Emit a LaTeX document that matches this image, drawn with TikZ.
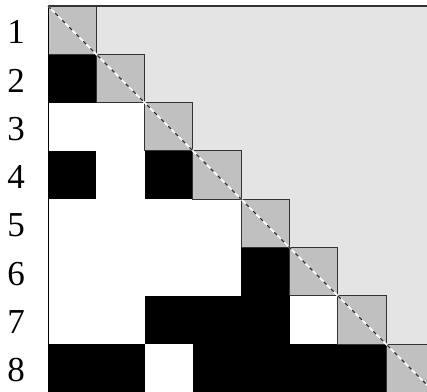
\documentclass[tikz,border=0pt]{standalone}
\usepackage{fontspec}
\setmainfont{Liberation Serif}
\definecolor{uppergray}{HTML}{E4E4E4}
\definecolor{diaggray}{HTML}{C0C0C0}
\tikzset{
  cellblack/.style={fill=black},
  celldiag/.style={fill=diaggray, draw=black!80, line width=1pt},
  rowlabel/.style={font=\fontsize{35}{35}\selectfont, inner sep=0pt}
}
\begin{document}
\begin{tikzpicture}[x=1pt,y=-1pt]
\pgfmathsetmacro{\cel}{48.3}
\useasboundingbox (0,0) rectangle (427,391);
\begin{scope}
\clip (0,0) rectangle (427,391);
\fill[white] (0,0) rectangle (427,391);
\fill[uppergray] (48,6) rectangle ++({8*\cel},{8*\cel});
\foreach \i in {2,...,8}
  \fill[white] (48,{6+(\i-1)*\cel}) rectangle ++({(\i-1)*\cel},\cel);
\foreach \r/\k in {2/1,4/1,4/3,6/5,7/3,7/4,7/5,8/1,8/2,8/4,8/5,8/6,8/7}
  \fill[cellblack] ({48+(\k-1)*\cel},{6+(\r-1)*\cel}) rectangle ++(\cel,\cel);
\foreach \i in {1,...,8}
  \filldraw[celldiag] ({48+(\i-1)*\cel},{6+(\i-1)*\cel}) rectangle ++(\cel,\cel);
\draw[line width=1.6pt, black!80] (48,6) -- ({48+8*\cel},6);
\draw[line width=1pt, black] (48,6) -- (48,{6+8*\cel});
\coordinate (d0) at (48,6);
\coordinate (d1) at ({48+8*\cel},{6+8*\cel});
\draw[white, line width=1.6pt] (d0) -- (d1);
\draw[black!85, line width=1.2pt, dash pattern=on 4pt off 6pt] (d0) -- (d1);
\end{scope}
\foreach \i in {1,...,8}
  \node[rowlabel] (l\i) at (16,{6+(\i-0.5)*\cel+2}) {\i};
\end{tikzpicture}
\end{document}
